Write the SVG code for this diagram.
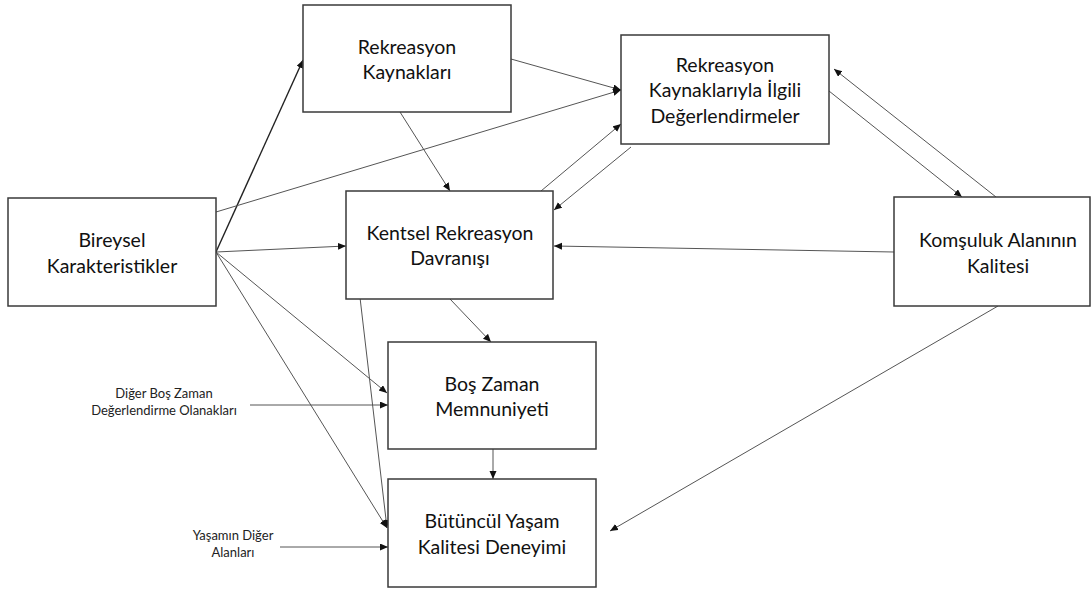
<svg xmlns="http://www.w3.org/2000/svg" width="1091" height="593" viewBox="0 0 1091 593">
<style>
.box{fill:#fff;stroke:#3a3a3a;stroke-width:1.5}
.t{font-family:Lato,"Open Sans","Liberation Sans",sans-serif;font-size:19.5px;fill:#111;text-anchor:middle}
.s{font-family:Lato,"Open Sans","Liberation Sans",sans-serif;font-size:13px;fill:#222;text-anchor:middle}
.c{fill:none;stroke:#555;stroke-width:1;marker-end:url(#ah)}
</style>
<defs>
<marker id="ah" markerUnits="userSpaceOnUse" markerWidth="9" markerHeight="8" refX="8" refY="3.5" orient="auto">
<path d="M0,0 L8,3.5 L0,7 z" fill="#111"/>
</marker>
</defs>
<rect width="1091" height="593" fill="#fff"/>
<g id="connectors">
<path class="c" d="M216,252 L303,60" style="stroke:#222;stroke-width:1.4"/>
<path class="c" d="M216,212 L621,90"/>
<path class="c" d="M511,59 L621,90"/>
<path class="c" d="M400,112 L450,191"/>
<path class="c" d="M216,252 L346,246"/>
<path class="c" d="M541,191 L621,124"/>
<path class="c" d="M631,147 L554,210"/>
<path class="c" d="M829,91 L962,197"/>
<path class="c" d="M996,197 L834,69"/>
<path class="c" d="M894,252 L554,246"/>
<path class="c" d="M998,306 L610,531"/>
<path class="c" d="M450,299 L491,342"/>
<path class="c" d="M493,449 L493,479"/>
<path class="c" d="M216,252 L387,393"/>
<path class="c" d="M216,252 L387,528"/>
<path class="c" d="M359,289 L387,528"/>
<path class="c" d="M250,405 L388,405"/>
<path class="c" d="M280,547 L388,547"/>
</g>
<g id="rekreasyon-kaynaklari">
<rect class="box" x="303" y="5" width="208" height="107"/>
<text class="t" x="407" y="54">Rekreasyon</text>
<text class="t" x="407" y="79">Kaynakları</text>
</g>
<g id="degerlendirmeler">
<rect class="box" x="621" y="35" width="208" height="109"/>
<text class="t" x="725" y="72">Rekreasyon</text>
<text class="t" x="725" y="97">Kaynaklarıyla İlgili</text>
<text class="t" x="725" y="123">Değerlendirmeler</text>
</g>
<g id="bireysel">
<rect class="box" x="8" y="198" width="208" height="108"/>
<text class="t" x="112" y="247">Bireysel</text>
<text class="t" x="112" y="273">Karakteristikler</text>
</g>
<g id="kentsel">
<rect class="box" x="346" y="191" width="207" height="108"/>
<text class="t" x="450" y="240">Kentsel Rekreasyon</text>
<text class="t" x="450" y="265">Davranışı</text>
</g>
<g id="komsuluk">
<rect class="box" x="894" y="197" width="196" height="109"/>
<text class="t" x="998" y="247">Komşuluk Alanının</text>
<text class="t" x="998" y="273">Kalitesi</text>
</g>
<g id="bos-zaman">
<rect class="box" x="388" y="342" width="208" height="107"/>
<text class="t" x="492" y="391">Boş Zaman</text>
<text class="t" x="492" y="416">Memnuniyeti</text>
</g>
<g id="butuncul">
<rect class="box" x="388" y="479" width="208" height="108"/>
<text class="t" x="492" y="528">Bütüncül Yaşam</text>
<text class="t" x="492" y="554">Kalitesi Deneyimi</text>
</g>
<g id="diger-bos-zaman">
<text class="s" x="164" y="398">Diğer Boş Zaman</text>
<text class="s" x="164" y="415">Değerlendirme Olanakları</text>
</g>
<g id="yasamin-diger">
<text class="s" x="233" y="540">Yaşamın Diğer</text>
<text class="s" x="233" y="557">Alanları</text>
</g>
</svg>
